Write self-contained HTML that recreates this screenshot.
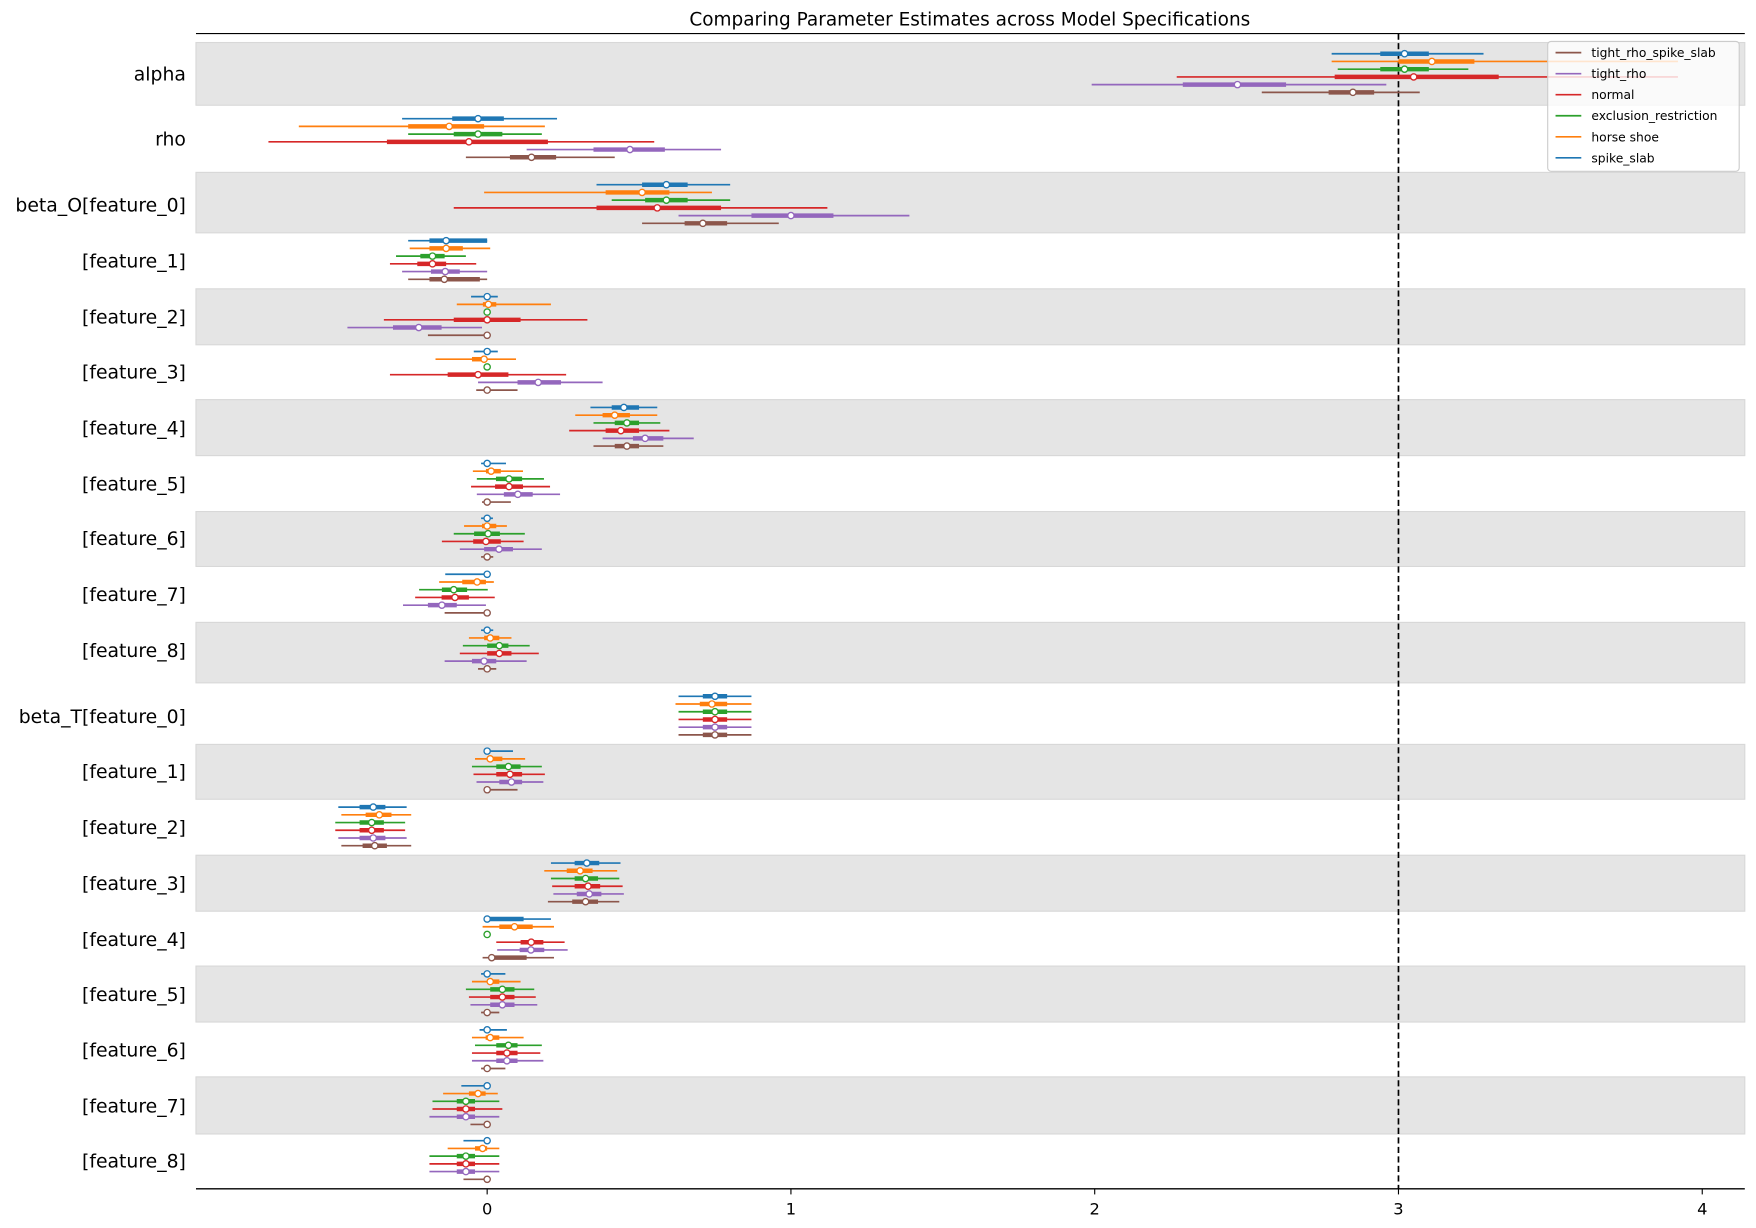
<!DOCTYPE html>
<html><head><meta charset="utf-8"><title>Forest plot</title>
<style>
html,body{margin:0;padding:0;background:#fff;}
svg{display:block;font-family:"DejaVu Sans","Liberation Sans",sans-serif;}
</style></head>
<body>
<svg id="chart" width="1756" height="1228" viewBox="0 0 1568 1097" preserveAspectRatio="none" xmlns="http://www.w3.org/2000/svg">
<text x="866" y="23" font-size="16.5" text-anchor="middle" fill="#000">Comparing Parameter Estimates across Model Specifications</text>
<g id="bands"></g>
<g id="marks"></g>
<g id="axes"></g>
<g id="legend"></g>
</svg>
<script>
const rowLabels = ["alpha","rho","beta_O[feature_0]","[feature_1]","[feature_2]","[feature_3]","[feature_4]","[feature_5]","[feature_6]","[feature_7]","[feature_8]","beta_T[feature_0]","[feature_1]","[feature_2]","[feature_3]","[feature_4]","[feature_5]","[feature_6]","[feature_7]","[feature_8]"];
const modelNames = ["spike_slab","horse shoe","exclusion_restriction","normal","tight_rho","tight_rho_spike_slab"];
const xTicks = [0,1,2,3,4];
const refValue = 3;
// each row: [hdi_low, q1, median, q3, hdi_high]
const spikeSlab = [[2.78,2.94,3.02,3.10,3.28],[-0.28,-0.115,-0.03,0.055,0.23],[0.36,0.51,0.59,0.66,0.80],[-0.26,-0.19,-0.135,0,0],[-0.053,-0.01,0,0.01,0.035],[-0.044,-0.01,0,0.01,0.035],[0.34,0.41,0.45,0.50,0.56],[-0.02,-0.005,0,0.01,0.062],[-0.02,-0.005,0,0.005,0.019],[-0.138,-0.01,0,0,0],[-0.02,-0.005,0,0.005,0.02],[0.63,0.71,0.75,0.79,0.87],[0,0,0,0.01,0.085],[-0.49,-0.42,-0.375,-0.335,-0.265],[0.21,0.288,0.328,0.369,0.439],[0,0,0,0.12,0.21],[-0.02,-0.005,0,0.005,0.06],[-0.025,-0.005,0,0.005,0.065],[-0.085,-0.01,0,0,0],[-0.078,-0.01,0,0,0]];
const horseShoe = [[2.78,3.0,3.11,3.25,3.92],[-0.62,-0.26,-0.125,-0.01,0.19],[-0.01,0.39,0.51,0.60,0.74],[-0.255,-0.19,-0.135,-0.08,0.01],[-0.10,-0.014,0.004,0.03,0.21],[-0.17,-0.05,-0.01,0,0.095],[0.29,0.38,0.42,0.47,0.56],[-0.047,-0.004,0.013,0.045,0.118],[-0.076,-0.017,0,0.03,0.065],[-0.158,-0.082,-0.033,-0.004,0.022],[-0.06,-0.01,0.01,0.04,0.08],[0.62,0.70,0.74,0.79,0.87],[-0.04,0,0.01,0.05,0.125],[-0.48,-0.40,-0.355,-0.315,-0.25],[0.188,0.262,0.306,0.347,0.428],[-0.015,0.04,0.09,0.15,0.22],[-0.05,0,0.01,0.04,0.11],[-0.05,-0.005,0.01,0.04,0.12],[-0.145,-0.06,-0.03,-0.005,0.035],[-0.13,-0.04,-0.015,0,0.04]];
const exclusionRestriction = [[2.80,2.94,3.02,3.10,3.23],[-0.26,-0.11,-0.03,0.05,0.18],[0.41,0.52,0.59,0.66,0.80],[-0.30,-0.22,-0.18,-0.14,-0.07],[0,0,0,0,0],[0,0,0,0,0],[0.35,0.42,0.46,0.50,0.57],[-0.034,0.029,0.072,0.115,0.187],[-0.11,-0.043,0.003,0.042,0.124],[-0.224,-0.149,-0.11,-0.066,0.002],[-0.08,0,0.04,0.07,0.14],[0.63,0.71,0.75,0.79,0.87],[-0.05,0.03,0.07,0.11,0.18],[-0.50,-0.42,-0.38,-0.34,-0.27],[0.21,0.288,0.324,0.365,0.435],[0,0,0,0,0],[-0.07,0.01,0.05,0.09,0.155],[-0.04,0.03,0.07,0.1,0.18],[-0.18,-0.1,-0.07,-0.04,0.04],[-0.19,-0.1,-0.07,-0.04,0.04]];
const normalModel = [[2.27,2.79,3.05,3.33,3.92],[-0.72,-0.33,-0.06,0.20,0.55],[-0.11,0.36,0.56,0.77,1.12],[-0.32,-0.23,-0.18,-0.135,-0.036],[-0.34,-0.11,0,0.11,0.33],[-0.32,-0.13,-0.03,0.07,0.26],[0.27,0.39,0.44,0.50,0.60],[-0.053,0.026,0.072,0.118,0.207],[-0.149,-0.046,-0.004,0.045,0.12],[-0.237,-0.15,-0.106,-0.06,0.025],[-0.09,0,0.04,0.08,0.17],[0.63,0.71,0.75,0.79,0.87],[-0.045,0.03,0.075,0.115,0.19],[-0.50,-0.42,-0.38,-0.34,-0.27],[0.214,0.288,0.332,0.372,0.446],[0.03,0.11,0.145,0.185,0.255],[-0.06,0.01,0.05,0.09,0.16],[-0.05,0.03,0.065,0.1,0.175],[-0.18,-0.1,-0.07,-0.04,0.05],[-0.19,-0.1,-0.07,-0.04,0.04]];
const tightRho = [[1.99,2.29,2.47,2.63,2.96],[0.13,0.35,0.47,0.585,0.77],[0.63,0.87,1.0,1.14,1.39],[-0.28,-0.185,-0.138,-0.09,0],[-0.46,-0.31,-0.225,-0.15,-0.017],[-0.03,0.1,0.168,0.243,0.38],[0.38,0.48,0.52,0.58,0.68],[-0.034,0.055,0.101,0.15,0.24],[-0.09,-0.01,0.039,0.085,0.18],[-0.277,-0.195,-0.149,-0.1,-0.004],[-0.14,-0.05,-0.01,0.03,0.13],[0.63,0.71,0.75,0.79,0.87],[-0.035,0.04,0.08,0.115,0.185],[-0.49,-0.42,-0.375,-0.335,-0.265],[0.218,0.295,0.336,0.376,0.45],[0.033,0.107,0.144,0.188,0.265],[-0.055,0.01,0.05,0.09,0.165],[-0.05,0.03,0.065,0.1,0.185],[-0.19,-0.1,-0.07,-0.04,0.04],[-0.19,-0.1,-0.07,-0.04,0.04]];
const tightRhoSpikeSlab = [[2.55,2.77,2.85,2.92,3.07],[-0.07,0.075,0.146,0.227,0.42],[0.51,0.65,0.71,0.79,0.96],[-0.26,-0.19,-0.141,-0.024,0],[-0.195,-0.005,0,0,0],[-0.036,0,0,0.01,0.10],[0.35,0.42,0.46,0.50,0.58],[-0.017,0,0,0.01,0.078],[-0.02,-0.005,0,0.005,0.02],[-0.14,-0.01,0,0,0],[-0.03,-0.01,0,0.01,0.03],[0.63,0.71,0.75,0.79,0.87],[-0.005,0,0,0.01,0.1],[-0.48,-0.41,-0.37,-0.33,-0.25],[0.2,0.28,0.324,0.365,0.435],[-0.015,0.01,0.015,0.13,0.22],[-0.02,-0.005,0,0.005,0.04],[-0.02,-0.005,0,0.005,0.06],[-0.055,-0.01,0,0,0.01],[-0.078,-0.01,0,0,0]];

const NS = "http://www.w3.org/2000/svg";
const models = [spikeSlab, horseShoe, exclusionRestriction, normalModel, tightRho, tightRhoSpikeSlab];
const colors = ["#1f77b4","#ff7f0e","#2ca02c","#d62728","#9467bd","#8c564b"];
const rowCenters = [66,124,183,233,283,332,382,432,481,531,581,640,689,739,789,839,888,938,988,1037];
const bandTops = [38,null,154,null,258,null,357,null,457,null,556,null,665,null,764,null,863,null,962,null];
const bandBottoms = [94,null,208,null,308,null,407,null,506,null,610,null,714,null,814,null,913,null,1013,null];
const plotL = 175, plotR = 1558, plotT = 30, plotB = 1062;
function xScale(v){ return 435 + v * 271.25; }
function mk(tag, attrs, parent){ const e = document.createElementNS(NS, tag); for (const k in attrs) e.setAttribute(k, attrs[k]); parent.appendChild(e); return e; }

const bandsG = document.getElementById('bands');
rowLabels.forEach((lab, i) => {
  if (bandTops[i] !== null) {
    const r = mk('rect', {x: plotL, y: bandTops[i], width: plotR - plotL, height: bandBottoms[i] - bandTops[i], fill: '#e5e5e5', stroke: '#d8d8d8', 'stroke-width': 1}, bandsG);
    
    
  }
});

const marksG = document.getElementById('marks');
const refLine = mk('line', {x1: xScale(refValue), x2: xScale(refValue), y1: plotT, y2: plotB, stroke: '#000', 'stroke-width': 1.5, 'stroke-dasharray': '5.5,3'}, marksG);



rowLabels.forEach((lab, i) => {
  const g = mk('g', {}, marksG);
  
  
  models.forEach((m, j) => {
    const d = m[i];
    const y = rowCenters[i] - 18 + j * 6.9;
    const thin = mk('line', {x1: xScale(d[0]), x2: xScale(d[4]), y1: y, y2: y, stroke: colors[j], 'stroke-width': 1.5}, g);
    
    
    const thick = mk('line', {x1: xScale(d[1]), x2: xScale(d[3]), y1: y, y2: y, stroke: colors[j], 'stroke-width': 4}, g);
    
    
    const c = mk('circle', {cx: xScale(d[2]), cy: y, r: 2.8, fill: '#fff', stroke: colors[j], 'stroke-width': 1.2}, g);
    
    
  });
  const t = mk('text', {x: 166, y: rowCenters[i] + 6, 'font-size': 16.8, 'text-anchor': 'end', fill: '#000'}, g);
  t.textContent = lab;
  
  
});

const axesG = document.getElementById('axes');
const topSpine = mk('line', {x1: plotL, x2: plotR, y1: plotT, y2: plotT, stroke: '#000', 'stroke-width': 1}, axesG);


const botSpine = mk('line', {x1: plotL, x2: plotR, y1: plotB, y2: plotB, stroke: '#000', 'stroke-width': 1.2}, axesG);


xTicks.forEach(v => {
  const tk = mk('line', {x1: xScale(v), x2: xScale(v), y1: plotB, y2: plotB + 5, stroke: '#000', 'stroke-width': 1}, axesG);
  
  
  const tl = mk('text', {x: xScale(v), y: plotB + 23, 'font-size': 14.5, 'text-anchor': 'middle', fill: '#000'}, axesG);
  tl.textContent = String(v);
  
  
});

const legendG = document.getElementById('legend');
const lb = mk('rect', {x: 1382, y: 37, width: 171, height: 116, rx: 3, fill: 'rgba(255,255,255,0.8)', stroke: '#cccccc', 'stroke-width': 1}, legendG);


for (let k = 0; k < 6; k++) {
  const j = 5 - k;
  const y = 47 + k * 18.8;
  const ge = mk('g', {}, legendG);
  
  
  mk('line', {x1: 1389, x2: 1412, y1: y, y2: y, stroke: colors[j], 'stroke-width': 1.5}, ge);
  const tx = mk('text', {x: 1421, y: y + 4, 'font-size': 11, fill: '#000'}, ge);
  tx.textContent = modelNames[j];
}
</script>
</body></html>
